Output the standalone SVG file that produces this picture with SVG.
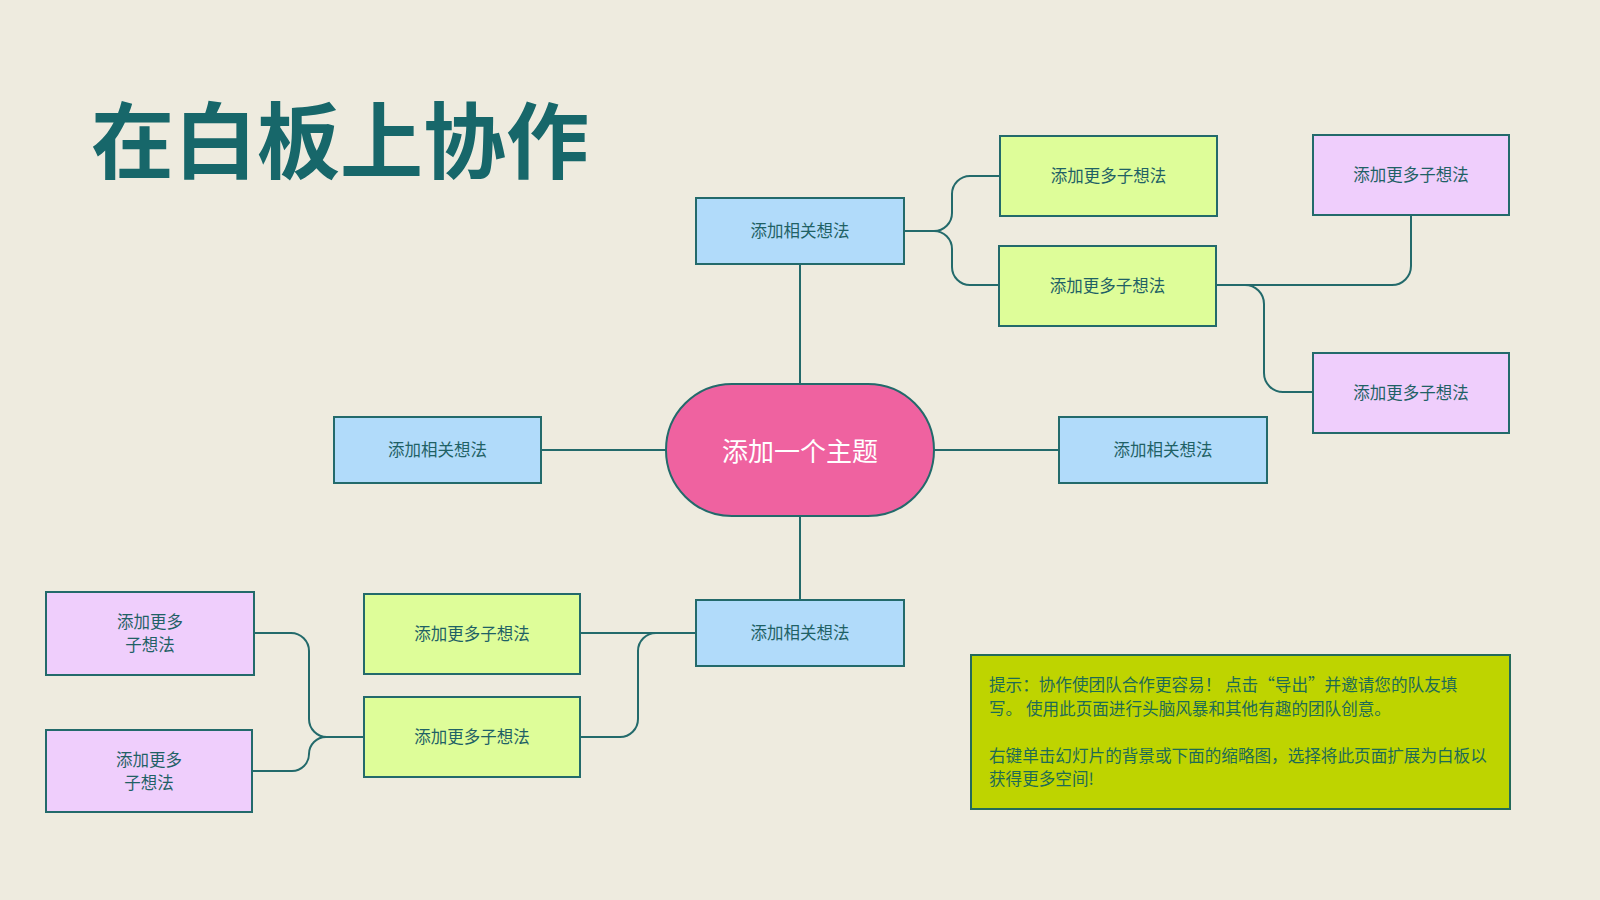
<svg xmlns="http://www.w3.org/2000/svg" width="1600" height="900" viewBox="0 0 1600 900">
<style>
.n{stroke:#236a6b;stroke-width:2}
.blue{fill:#b1dbfa}
.green{fill:#defd99}
.purple{fill:#efcefc}
.t{font-family:"Noto Sans CJK SC","Noto Sans",sans-serif;font-size:16.5px;fill:#1f6165;text-anchor:middle;dominant-baseline:central}
.c{fill:none;stroke:#236a6b;stroke-width:2}
.tip{font-family:"Noto Sans CJK SC","Noto Sans",sans-serif;font-size:16.6px;fill:#1e6b55;dominant-baseline:central}
</style>
<rect width="1600" height="900" fill="#eeebdf"/>
<text x="91" y="172" font-family="'Noto Sans CJK SC',sans-serif" font-weight="700" font-size="83" fill="#17676a">在白板上协作</text>

<g id="connectors">
<path class="c" d="M800,264 V384"/>
<path class="c" d="M800,516 V600"/>
<path class="c" d="M541,450 H666"/>
<path class="c" d="M934,450 H1059"/>
<path class="c" d="M904,231 H934 A18,18 0 0 0 952,213 V194 A18,18 0 0 1 970,176 H1000"/>
<path class="c" d="M904,231 H934 A18,18 0 0 1 952,249 V267 A18,18 0 0 0 970,285 H999"/>
<path class="c" d="M1216,285 H1392 A19,19 0 0 0 1411,266 V215"/>
<path class="c" d="M1216,285 H1245 A19,19 0 0 1 1264,304 V373 A19,19 0 0 0 1283,392 H1313"/>
<path class="c" d="M580,633 H696"/>
<path class="c" d="M696,633 H656 A18,18 0 0 0 638,651 V719 A18,18 0 0 1 620,737 H580"/>
<path class="c" d="M254,633 H291 A18,18 0 0 1 309,651 V719 A18,18 0 0 0 327,737 H364"/>
<path class="c" d="M252,771 H292 A17,17 0 0 0 309,754 A17,17 0 0 1 326,737 H364"/>
</g>

<g id="center">
<rect class="n" x="666" y="384" width="268" height="132" rx="66" fill="#ef62a0"/>
<text x="800" y="449" font-family="'Noto Sans CJK SC',sans-serif" font-size="26" fill="#ffffff" text-anchor="middle" dominant-baseline="central">添加一个主题</text>
</g>
<g id="idea-top">
<rect class="n blue" x="696" y="198" width="208" height="66"/>
<text class="t" x="800" y="230">添加相关想法</text>
</g>
<g id="idea-left">
<rect class="n blue" x="334" y="417" width="207" height="66"/>
<text class="t" x="437.5" y="449">添加相关想法</text>
</g>
<g id="idea-right">
<rect class="n blue" x="1059" y="417" width="208" height="66"/>
<text class="t" x="1163" y="449">添加相关想法</text>
</g>
<g id="idea-bottom">
<rect class="n blue" x="696" y="600" width="208" height="66"/>
<text class="t" x="800" y="632">添加相关想法</text>
</g>
<g id="sub-tr1">
<rect class="n green" x="1000" y="136" width="217" height="80"/>
<text class="t" x="1108.5" y="175">添加更多子想法</text>
</g>
<g id="sub-tr2">
<rect class="n green" x="999" y="246" width="217" height="80"/>
<text class="t" x="1107.5" y="285">添加更多子想法</text>
</g>
<g id="subsub-tr1">
<rect class="n purple" x="1313" y="135" width="196" height="80"/>
<text class="t" x="1411" y="174">添加更多子想法</text>
</g>
<g id="subsub-tr2">
<rect class="n purple" x="1313" y="353" width="196" height="80"/>
<text class="t" x="1411" y="392">添加更多子想法</text>
</g>
<g id="sub-bl1">
<rect class="n green" x="364" y="594" width="216" height="80"/>
<text class="t" x="472" y="633">添加更多子想法</text>
</g>
<g id="sub-bl2">
<rect class="n green" x="364" y="697" width="216" height="80"/>
<text class="t" x="472" y="736">添加更多子想法</text>
</g>
<g id="subsub-bl1">
<rect class="n purple" x="46" y="592" width="208" height="83"/>
<text class="t" x="150" y="621">添加更多</text>
<text class="t" x="150" y="644">子想法</text>
</g>
<g id="subsub-bl2">
<rect class="n purple" x="46" y="730" width="206" height="82"/>
<text class="t" x="149" y="759">添加更多</text>
<text class="t" x="149" y="782">子想法</text>
</g>
<g id="tip">
<rect x="971" y="655" width="539" height="154" fill="#bed400" stroke="#236a5a" stroke-width="2"/>
<text class="tip" x="989" y="684">提示：协作使团队合作更容易！ 点击“导出”并邀请您的队友填</text>
<text class="tip" x="989" y="707.5">写。 使用此页面进行头脑风暴和其他有趣的团队创意。</text>
<text class="tip" x="989" y="754.5">右键单击幻灯片的背景或下面的缩略图，选择将此页面扩展为白板以</text>
<text class="tip" x="989" y="778">获得更多空间!</text>
</g>
</svg>
